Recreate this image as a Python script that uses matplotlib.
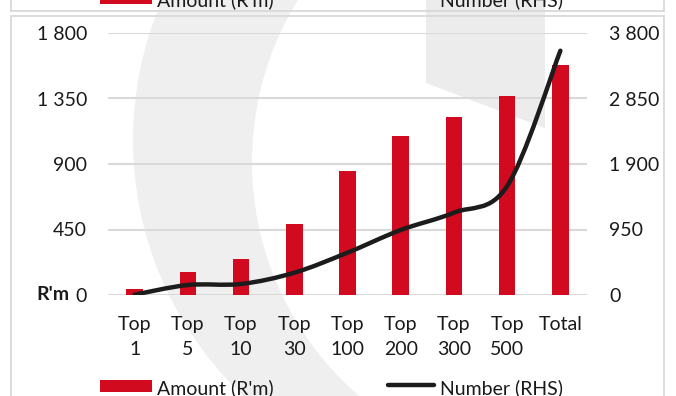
import matplotlib
matplotlib.use('Agg')
import matplotlib.pyplot as plt
import numpy as np
from matplotlib.path import Path
from matplotlib.patches import PathPatch, Rectangle, Circle, Polygon

plt.rcParams['font.family'] = ['Lato', 'DejaVu Sans']

categories = ['Top\n1', 'Top\n5', 'Top\n10', 'Top\n30', 'Top\n100',
              'Top\n200', 'Top\n300', 'Top\n500', 'Total']
amount = [39, 158, 250, 490, 852, 1090, 1225, 1367, 1582]        # R'm
number = [5, 145, 160, 323, 614, 943, 1194, 1580, 3543]           # RHS
left_ticks = [0, 450, 900, 1350, 1800]
right_ticks = [0, 950, 1900, 2850, 3800]

RED = '#d10a1f'
LINE = '#1c1c1c'
GRID = '#d9d9d9'
FS = 14


def fmt(v):
    return f'{v:,}'.replace(',', ' ')


def smooth_path(xs, ys, t=1 / 6):
    # cubic bezier through every point (spreadsheet style smoothed line)
    pts = np.column_stack([xs, ys]).astype(float)
    ext = np.vstack([pts[0], pts, pts[-1]])
    verts = [pts[0]]
    codes = [Path.MOVETO]
    for i in range(len(pts) - 1):
        p0, p1, p2, p3 = ext[i], ext[i + 1], ext[i + 2], ext[i + 3]
        verts += [p1 + (p2 - p0) * t, p2 - (p3 - p1) * t, p2]
        codes += [Path.CURVE4] * 3
    return Path(verts, codes)


fig = plt.figure(figsize=(6.76, 3.96), dpi=100)

# background layer in pixel units: logo watermark, frames, legends
bg = fig.add_axes([0, 0, 1, 1], zorder=0)
bg.set_xlim(0, 676)
bg.set_ylim(396, 0)
bg.axis('off')
bg.add_patch(Circle((485, 140), 352, color='#efefef', lw=0))
bg.add_patch(Circle((561, 162), 309, color='white', lw=0))
bg.add_patch(Polygon([(426, 0), (545, 0), (545, 128), (426, 83)],
                     closed=True, color='#ececec', lw=0))

for y0, y1, yl in [(0, 11, 11), (16, 396, 16)]:
    bg.plot([11, 11], [y0, y1], color=GRID, lw=1.3)
    bg.plot([664, 664], [y0, y1], color=GRID, lw=1.3)
    bg.plot([11, 664], [yl, yl], color=GRID, lw=1.3)

for yc in (-2, 386):
    bg.add_patch(Rectangle((100, yc - 6), 52, 12, color=RED, lw=0))
    bg.text(157, yc + 2, "Amount (R'm)", fontsize=FS, va='center', ha='left',
            color='#1a1a1a')
    bg.plot([388, 434], [yc - 1, yc - 1], color=LINE, lw=3.2,
            solid_capstyle='round')
    bg.text(440, yc + 2, 'Number (RHS)', fontsize=FS, va='center', ha='left',
            color='#1a1a1a')

bg.text(69, 295, "R'm", fontsize=FS, fontweight='bold', ha='right',
        va='center', color='#1a1a1a')

ax = fig.add_axes([108 / 676, 101 / 396, 479 / 676, 262 / 396], zorder=1)
ax.set_facecolor('none')
x = np.arange(len(categories))
ax.bar(x, amount, width=0.31, color=RED, zorder=2)
ax.set_xlim(-0.5, len(categories) - 0.5)
ax.set_ylim(0, 1800)
ax.set_yticks(left_ticks)
ax.set_yticklabels([fmt(v) for v in left_ticks])
ax.set_xticks(x)
ax.set_xticklabels(categories, linespacing=1.55)
ax.yaxis.grid(True, color=GRID, lw=1.5)
ax.set_axisbelow(True)
ax.tick_params(axis='y', length=0, pad=15, labelsize=FS, colors='#1a1a1a')
ax.tick_params(axis='x', length=0, pad=15, labelsize=FS, colors='#1a1a1a')
for s in ax.spines.values():
    s.set_visible(False)

ax2 = ax.twinx()
ax2.set_ylim(0, 3800)
ax2.set_yticks(right_ticks)
ax2.set_yticklabels([fmt(v) for v in right_ticks])
ax2.tick_params(axis='y', length=0, pad=16, labelsize=FS, colors='#1a1a1a')
for s in ax2.spines.values():
    s.set_visible(False)
ax2.add_patch(PathPatch(smooth_path(x, number), fill=False, edgecolor=LINE,
                        lw=3.2, capstyle='round', joinstyle='round', zorder=3))

fig.savefig('out.png', dpi=100)
